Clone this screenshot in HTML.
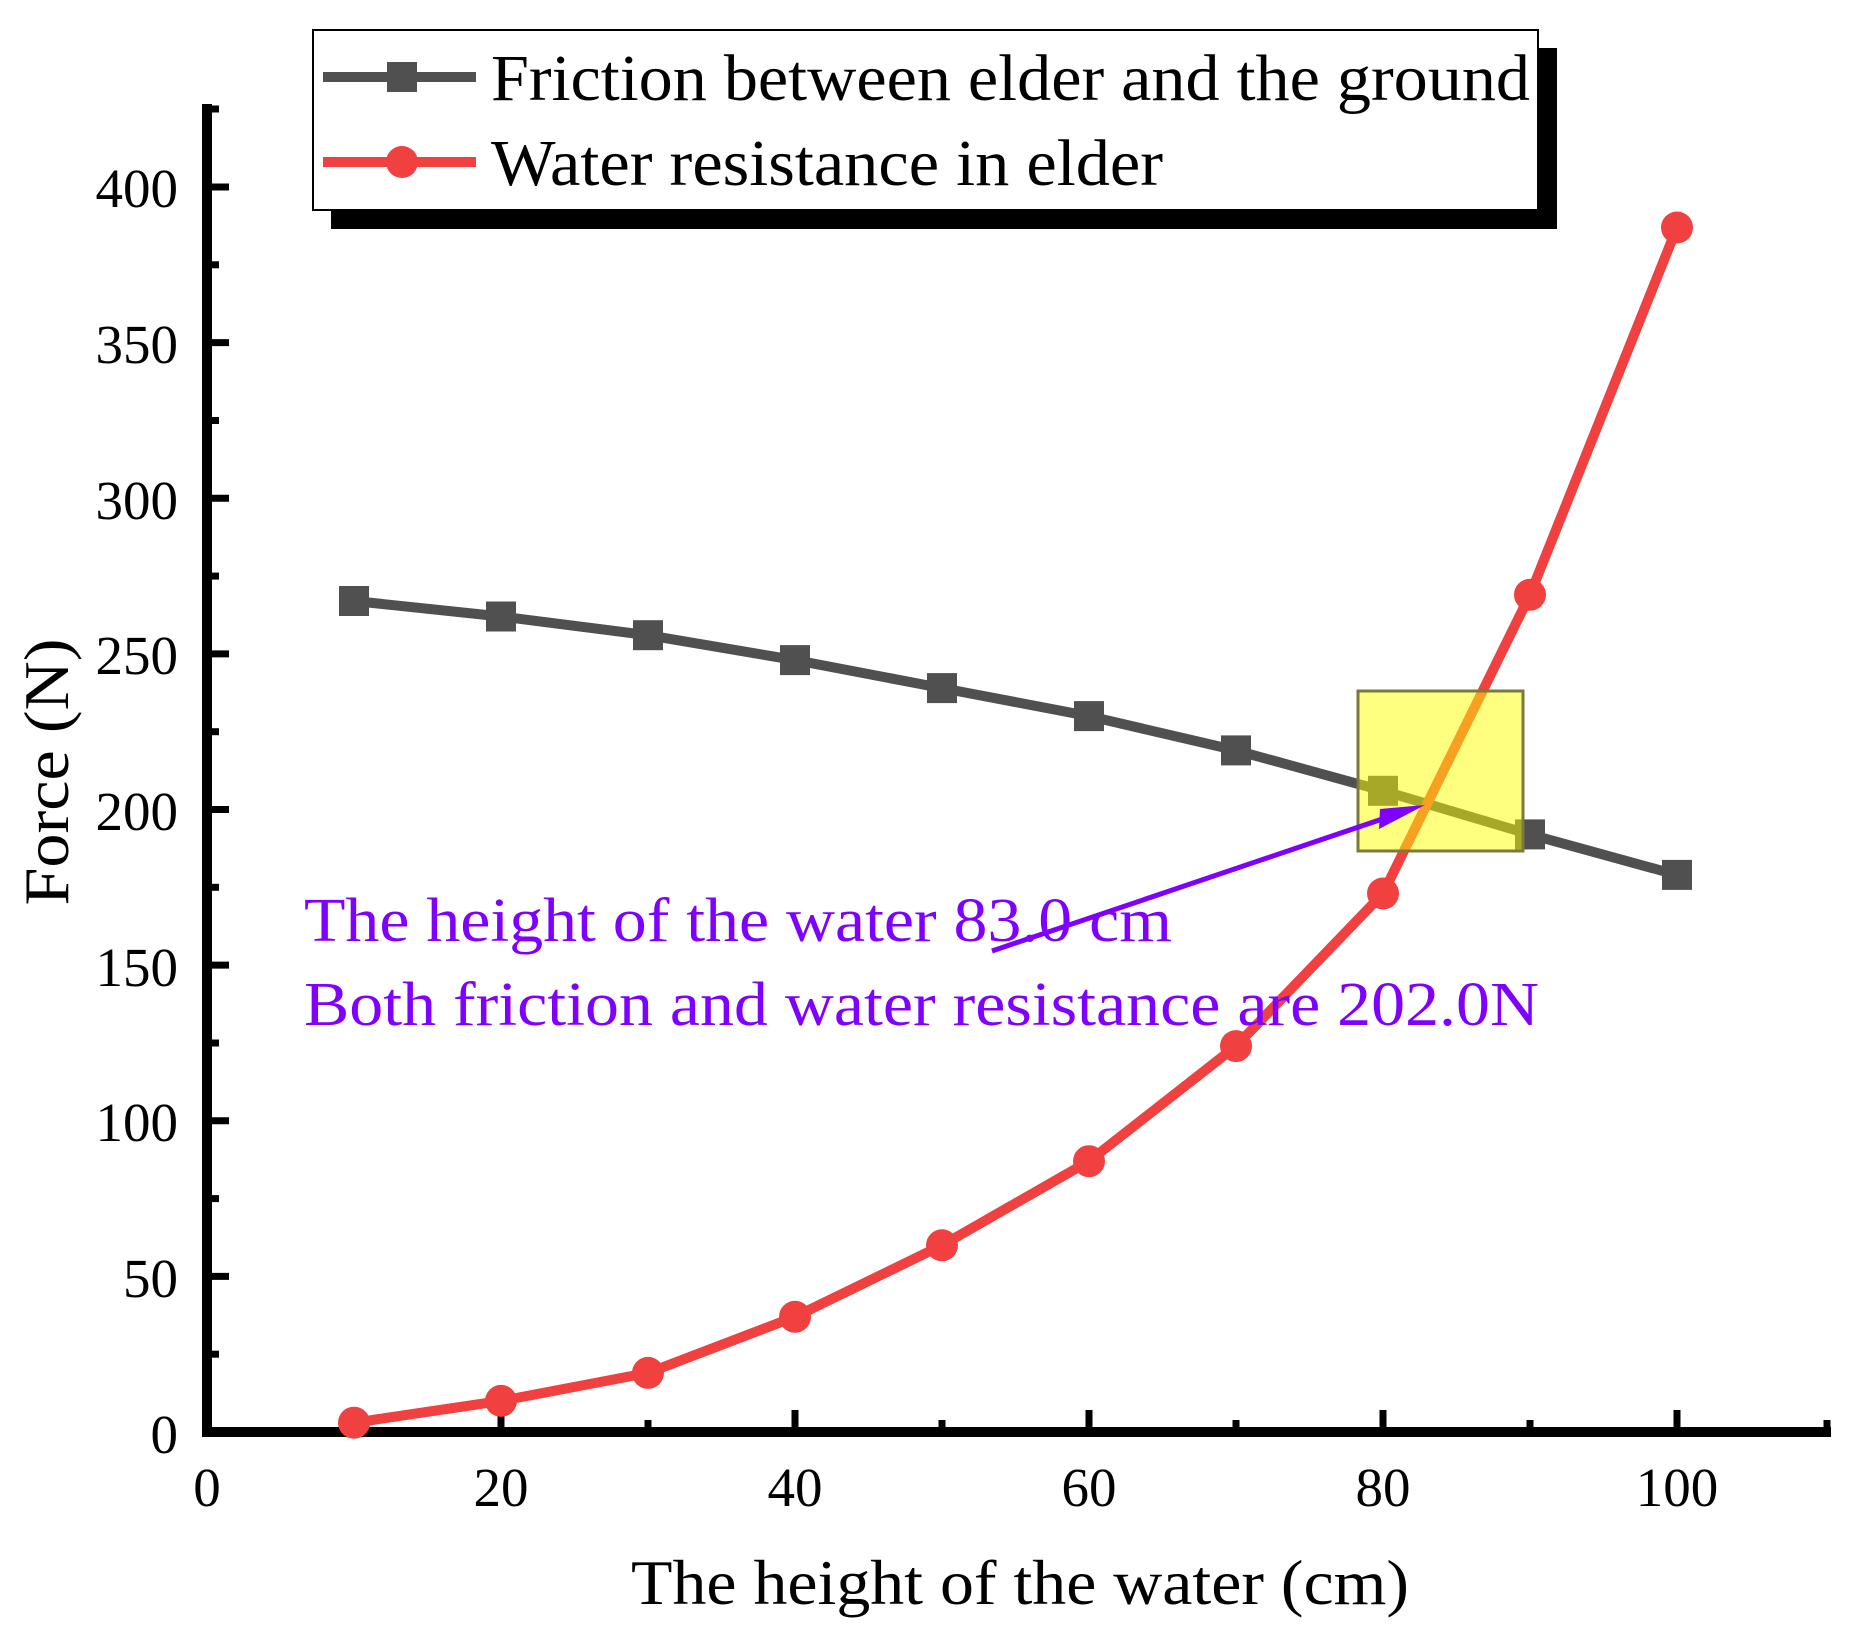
<!DOCTYPE html>
<html><head><meta charset="utf-8"><style>html,body{margin:0;padding:0;background:#fff}svg{display:block}</style></head>
<body>
<svg width="1851" height="1627" viewBox="0 0 1851 1627" xmlns="http://www.w3.org/2000/svg" font-family="Liberation Serif, serif">
<!-- legend -->
<rect x="331" y="48" width="1226" height="181" fill="#000"/>
<rect x="313" y="30" width="1225" height="180" fill="#fff" stroke="#000" stroke-width="2"/>
<line x1="323" y1="77" x2="476" y2="77" stroke="#505050" stroke-width="10"/>
<rect x="387" y="62" width="30" height="30" fill="#505050"/>
<line x1="323" y1="162" x2="476" y2="162" stroke="#f04040" stroke-width="10"/>
<circle cx="402" cy="162" r="16" fill="#f04040"/>
<text x="491" y="100" font-size="66" textLength="1039" lengthAdjust="spacingAndGlyphs">Friction between elder and the ground</text>
<text x="491" y="185" font-size="66" textLength="672" lengthAdjust="spacingAndGlyphs">Water resistance in elder</text>
<!-- axes -->
<line x1="207" y1="104" x2="207" y2="1437" stroke="#000" stroke-width="10"/>
<line x1="202" y1="1432" x2="1831" y2="1432" stroke="#000" stroke-width="10"/>
<g stroke="#000" stroke-width="7">
<line x1="501" y1="1432" x2="501" y2="1410"/><line x1="795" y1="1432" x2="795" y2="1410"/><line x1="1089" y1="1432" x2="1089" y2="1410"/><line x1="1383" y1="1432" x2="1383" y2="1410"/><line x1="1677" y1="1432" x2="1677" y2="1410"/>
<line x1="354" y1="1432" x2="354" y2="1420"/><line x1="648" y1="1432" x2="648" y2="1420"/><line x1="942" y1="1432" x2="942" y2="1420"/><line x1="1236" y1="1432" x2="1236" y2="1420"/><line x1="1530" y1="1432" x2="1530" y2="1420"/><line x1="1827" y1="1432" x2="1827" y2="1420"/>
<line x1="207" y1="1276.4" x2="229" y2="1276.4"/><line x1="207" y1="1120.8" x2="229" y2="1120.8"/><line x1="207" y1="965.1" x2="229" y2="965.1"/><line x1="207" y1="809.5" x2="229" y2="809.5"/><line x1="207" y1="653.9" x2="229" y2="653.9"/><line x1="207" y1="498.3" x2="229" y2="498.3"/><line x1="207" y1="342.6" x2="229" y2="342.6"/><line x1="207" y1="187" x2="229" y2="187"/>
<line x1="207" y1="1354.2" x2="219" y2="1354.2"/><line x1="207" y1="1198.6" x2="219" y2="1198.6"/><line x1="207" y1="1043" x2="219" y2="1043"/><line x1="207" y1="887.3" x2="219" y2="887.3"/><line x1="207" y1="731.7" x2="219" y2="731.7"/><line x1="207" y1="576.1" x2="219" y2="576.1"/><line x1="207" y1="420.5" x2="219" y2="420.5"/><line x1="207" y1="264.8" x2="219" y2="264.8"/><line x1="207" y1="109" x2="219" y2="109"/>
</g>
<g font-size="55" text-anchor="end">
<text x="178" y="1453">0</text><text x="178" y="1297">50</text><text x="178" y="1141">100</text><text x="178" y="986">150</text><text x="178" y="830">200</text><text x="178" y="674">250</text><text x="178" y="519">300</text><text x="178" y="363">350</text><text x="178" y="207">400</text>
</g>
<g font-size="55" text-anchor="middle">
<text x="207" y="1506">0</text><text x="501" y="1506">20</text><text x="795" y="1506">40</text><text x="1089" y="1506">60</text><text x="1383" y="1506">80</text><text x="1677" y="1506">100</text>
</g>
<text x="1020" y="1604" font-size="64" text-anchor="middle" textLength="778" lengthAdjust="spacingAndGlyphs">The height of the water (cm)</text>
<text transform="translate(68,772) rotate(-90)" font-size="64" text-anchor="middle" textLength="267" lengthAdjust="spacingAndGlyphs">Force (N)</text>
<!-- series -->
<polyline fill="none" stroke="#505050" stroke-width="10" points="354,601 501,616.5 648,635.2 795,660.1 942,688.1 1089,716.1 1236,750.4 1383,790.8 1530,834.4 1677,874.9"/>
<g fill="#505050">
<rect x="339" y="586" width="30" height="30"/><rect x="486" y="601.5" width="30" height="30"/><rect x="633" y="620.2" width="30" height="30"/><rect x="780" y="645.1" width="30" height="30"/><rect x="927" y="673.1" width="30" height="30"/><rect x="1074" y="701.1" width="30" height="30"/><rect x="1221" y="735.4" width="30" height="30"/><rect x="1368" y="775.8" width="30" height="30"/><rect x="1515" y="819.4" width="30" height="30"/><rect x="1662" y="859.9" width="30" height="30"/>
</g>
<polyline fill="none" stroke="#f04040" stroke-width="10" points="354,1422.7 501,1400.9 648,1372.9 795,1316.8 942,1245.3 1089,1161.2 1236,1046.1 1383,893.5 1530,594.8 1677,227.5"/>
<g fill="#f04040">
<circle cx="354" cy="1422.7" r="16"/><circle cx="501" cy="1400.9" r="16"/><circle cx="648" cy="1372.9" r="16"/><circle cx="795" cy="1316.8" r="16"/><circle cx="942" cy="1245.3" r="16"/><circle cx="1089" cy="1161.2" r="16"/><circle cx="1236" cy="1046.1" r="16"/><circle cx="1383" cy="893.5" r="16"/><circle cx="1530" cy="594.8" r="16"/><circle cx="1677" cy="227.5" r="16"/>
</g>
<!-- highlight box -->
<rect x="1358" y="691" width="165" height="160" fill="#ffff00" fill-opacity="0.5" stroke="#7a7a3a" stroke-width="3"/>
<!-- arrow -->
<line x1="992" y1="951" x2="1400" y2="813" stroke="#8000ff" stroke-width="5"/>
<polygon points="1425,805 1379,829 1380,809" fill="#8000ff"/>
<g fill="#8000ff" font-size="62">
<text x="304" y="941" textLength="868" lengthAdjust="spacingAndGlyphs">The height of the water 83.0 cm</text>
<text x="304" y="1025" textLength="1235" lengthAdjust="spacingAndGlyphs">Both friction and water resistance are 202.0N</text>
</g>
</svg>
</body></html>
